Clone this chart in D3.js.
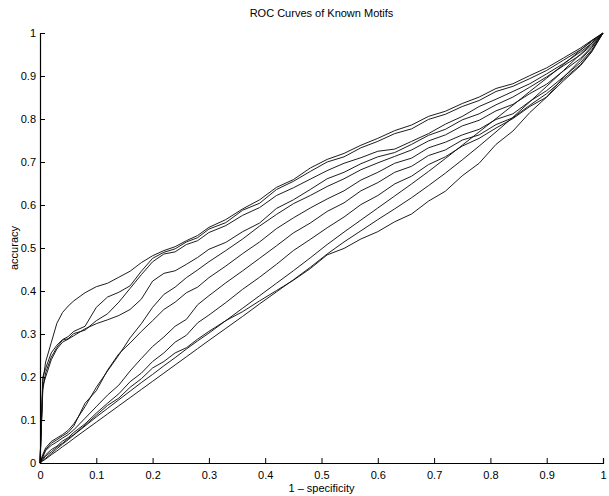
<!DOCTYPE html>
<html>
<head>
<meta charset="utf-8">
<script src="https://cdn.jsdelivr.net/npm/d3@7"></script>
<style>
  body { margin: 0; background: #fff; }
  svg { font-family: "Liberation Sans", Arial, sans-serif; }
</style>
</head>
<body>
<svg id="drawing_region"></svg>
<script>
// shared false-positive grid (1 - specificity)
const xs = [0, 0.005, 0.01, 0.02, 0.03, 0.04, 0.05, 0.06, 0.08, 0.1,
            0.12, 0.14, 0.16, 0.18, 0.2, 0.22, 0.24, 0.26, 0.28, 0.3,
            0.33, 0.36, 0.39, 0.42, 0.45, 0.48, 0.51, 0.54, 0.57, 0.6,
            0.63, 0.66, 0.69, 0.72, 0.75, 0.78, 0.81, 0.84, 0.87, 0.9,
            0.93, 0.96, 0.98, 1];

// accuracy of each motif
const motif1 = [0, 0.19, 0.235, 0.28, 0.325, 0.35, 0.365, 0.377, 0.396, 0.41,
                0.418, 0.432, 0.446, 0.466, 0.482, 0.494, 0.503, 0.517, 0.529, 0.548,
                0.566, 0.591, 0.612, 0.641, 0.659, 0.686, 0.706, 0.72, 0.739, 0.755,
                0.773, 0.786, 0.806, 0.818, 0.836, 0.851, 0.871, 0.882, 0.901, 0.919,
                0.942, 0.965, 0.983, 1];
const motif2 = [0, 0.2, 0.22, 0.256, 0.274, 0.287, 0.294, 0.306, 0.318, 0.362,
                0.386, 0.397, 0.412, 0.446, 0.476, 0.49, 0.498, 0.514, 0.524, 0.544,
                0.559, 0.588, 0.604, 0.636, 0.655, 0.678, 0.7, 0.712, 0.733, 0.748,
                0.766, 0.777, 0.799, 0.811, 0.829, 0.843, 0.864, 0.876, 0.894, 0.913,
                0.937, 0.961, 0.98, 1];
const motif3 = [0, 0.17, 0.21, 0.246, 0.269, 0.286, 0.289, 0.301, 0.309, 0.331,
                0.347, 0.374, 0.406, 0.438, 0.468, 0.486, 0.491, 0.508, 0.517, 0.536,
                0.552, 0.576, 0.594, 0.622, 0.64, 0.66, 0.68, 0.697, 0.71, 0.725,
                0.73, 0.748, 0.766, 0.788, 0.806, 0.829, 0.846, 0.864, 0.882, 0.905,
                0.929, 0.956, 0.976, 1];
const motif4 = [0, 0.18, 0.2, 0.24, 0.265, 0.281, 0.288, 0.296, 0.312, 0.324,
                0.333, 0.343, 0.357, 0.381, 0.423, 0.441, 0.447, 0.462, 0.478, 0.497,
                0.513, 0.538, 0.558, 0.592, 0.612, 0.636, 0.661, 0.676, 0.696, 0.712,
                0.722, 0.741, 0.762, 0.776, 0.798, 0.812, 0.833, 0.851, 0.874, 0.898,
                0.924, 0.949, 0.972, 1];
const motif5 = [0, 0.02, 0.035, 0.05, 0.058, 0.066, 0.076, 0.091, 0.131, 0.176,
                0.214, 0.251, 0.291, 0.324, 0.362, 0.392, 0.409, 0.431, 0.449, 0.468,
                0.494, 0.521, 0.551, 0.578, 0.603, 0.622, 0.643, 0.661, 0.682, 0.698,
                0.713, 0.728, 0.749, 0.763, 0.784, 0.797, 0.819, 0.834, 0.859, 0.881,
                0.912, 0.941, 0.968, 1];
const motif6 = [0, 0.016, 0.031, 0.046, 0.054, 0.063, 0.071, 0.086, 0.139, 0.168,
                0.216, 0.254, 0.279, 0.306, 0.331, 0.357, 0.374, 0.396, 0.409, 0.431,
                0.458, 0.487, 0.514, 0.545, 0.57, 0.593, 0.614, 0.633, 0.658, 0.676,
                0.697, 0.709, 0.733, 0.746, 0.763, 0.776, 0.799, 0.812, 0.841, 0.866,
                0.898, 0.931, 0.961, 1];
const motif7 = [0, 0.014, 0.029, 0.041, 0.049, 0.058, 0.066, 0.077, 0.104, 0.131,
                0.158, 0.181, 0.214, 0.243, 0.271, 0.293, 0.318, 0.334, 0.368, 0.389,
                0.419, 0.447, 0.476, 0.505, 0.535, 0.558, 0.585, 0.605, 0.633, 0.652,
                0.676, 0.69, 0.715, 0.728, 0.751, 0.763, 0.787, 0.803, 0.832, 0.859,
                0.893, 0.926, 0.958, 1];
const motif8 = [0, 0.011, 0.019, 0.031, 0.039, 0.051, 0.059, 0.071, 0.091, 0.116,
                0.139, 0.161, 0.189, 0.209, 0.236, 0.256, 0.281, 0.297, 0.326, 0.344,
                0.373, 0.404, 0.432, 0.462, 0.494, 0.52, 0.547, 0.572, 0.601, 0.622,
                0.649, 0.667, 0.694, 0.712, 0.737, 0.755, 0.779, 0.801, 0.829, 0.851,
                0.889, 0.924, 0.956, 1];
const motif9 = [0, 0.006, 0.011, 0.022, 0.033, 0.044, 0.054, 0.065, 0.086, 0.107,
                0.127, 0.147, 0.167, 0.187, 0.206, 0.226, 0.245, 0.265, 0.284, 0.302,
                0.331, 0.36, 0.389, 0.418, 0.447, 0.477, 0.508, 0.537, 0.565, 0.593,
                0.621, 0.649, 0.678, 0.708, 0.739, 0.77, 0.801, 0.832, 0.864, 0.895,
                0.927, 0.96, 0.982, 1];
const motif10 = [0, 0.005, 0.009, 0.019, 0.028, 0.038, 0.047, 0.057, 0.076, 0.095,
                 0.114, 0.133, 0.152, 0.171, 0.19, 0.209, 0.228, 0.247, 0.266, 0.285,
                 0.313, 0.341, 0.37, 0.398, 0.426, 0.455, 0.486, 0.514, 0.54, 0.566,
                 0.591, 0.617, 0.645, 0.674, 0.705, 0.737, 0.77, 0.804, 0.84, 0.876,
                 0.913, 0.951, 0.976, 1];
const motif11 = [0, 0.008, 0.016, 0.026, 0.037, 0.046, 0.057, 0.066, 0.088, 0.111,
                 0.134, 0.151, 0.176, 0.196, 0.221, 0.236, 0.256, 0.268, 0.288, 0.306,
                 0.331, 0.352, 0.377, 0.401, 0.425, 0.452, 0.484, 0.499, 0.521, 0.538,
                 0.561, 0.579, 0.609, 0.632, 0.668, 0.697, 0.741, 0.772, 0.815, 0.851,
                 0.897, 0.937, 0.966, 1];

const motifs = [motif1, motif2, motif3, motif4, motif5, motif6,
                motif7, motif8, motif9, motif10, motif11];

const xTicks = [0, 0.1, 0.2, 0.3, 0.4, 0.5, 0.6, 0.7, 0.8, 0.9, 1];
const xTickLabels = ["0", "0.1", "0.2", "0.3", "0.4", "0.5", "0.6", "0.7", "0.8", "0.9", "1"];
const yTicks = [0, 0.1, 0.2, 0.3, 0.4, 0.5, 0.6, 0.7, 0.8, 0.9, 1];
const yTickLabels = ["0", "0.1", "0.2", "0.3", "0.4", "0.5", "0.6", "0.7", "0.8", "0.9", "1"];

const config = {
    width: 609,
    height: 496,
    margin: {top: 33, right: 6, bottom: 33, left: 40}
};

const svg = d3.select('#drawing_region')
    .attr('width', config.width)
    .attr('height', config.height);

const inner_width = config.width - config.margin.left - config.margin.right;
const inner_height = config.height - config.margin.top - config.margin.bottom;

const chart = svg.append('g')
    .attr('transform', `translate(${config.margin.left}, ${config.margin.top})`);

const xscale = d3.scaleLinear()
    .domain([0, 1])
    .range([0, inner_width]);

const yscale = d3.scaleLinear()
    .domain([0, 1])
    .range([inner_height, 0]);

const line = d3.line()
    .x((d, i) => xscale(xs[i]))
    .y(d => yscale(d));

chart.append('g')
    .selectAll('path')
    .data(motifs)
    .join('path')
    .attr('d', d => line(d))
    .attr('fill', 'none')
    .attr('stroke', '#111')
    .attr('stroke-width', 0.95)
    .attr('stroke-linejoin', 'round');

const xaxis = d3.axisBottom(xscale)
    .tickValues(xTicks)
    .tickFormat((d, i) => xTickLabels[i])
    .tickSize(-5)
    .tickPadding(6);

const yaxis = d3.axisLeft(yscale)
    .tickValues(yTicks)
    .tickFormat((d, i) => yTickLabels[i])
    .tickSize(-5)
    .tickPadding(4);

const xaxis_group = chart.append('g')
    .attr('transform', `translate(0, ${inner_height})`)
    .call(xaxis);

const yaxis_group = chart.append('g')
    .call(yaxis);

[xaxis_group, yaxis_group].forEach(g => {
    g.select('.domain').attr('stroke', '#000').attr('stroke-width', 1.2);
    g.selectAll('.tick line').attr('stroke', '#000');
    g.selectAll('.tick text')
        .attr('fill', '#000')
        .style('font-size', '11px')
        .style('font-family', '"Liberation Sans", Arial, sans-serif');
});

xaxis_group.selectAll('.tick text').attr('dy', '0.9em');

svg.append('text')
    .attr('x', config.margin.left + inner_width / 2)
    .attr('y', 17)
    .attr('text-anchor', 'middle')
    .style('font-size', '11px')
    .text('ROC Curves of Known Motifs');

svg.append('text')
    .attr('x', config.margin.left + inner_width / 2)
    .attr('y', 492)
    .attr('text-anchor', 'middle')
    .style('font-size', '11px')
    .text('1 – specificity');

svg.append('text')
    .attr('transform', `translate(18, ${config.margin.top + inner_height / 2}) rotate(-90)`)
    .attr('text-anchor', 'middle')
    .style('font-size', '11px')
    .text('accuracy');
</script>
</body>
</html>
